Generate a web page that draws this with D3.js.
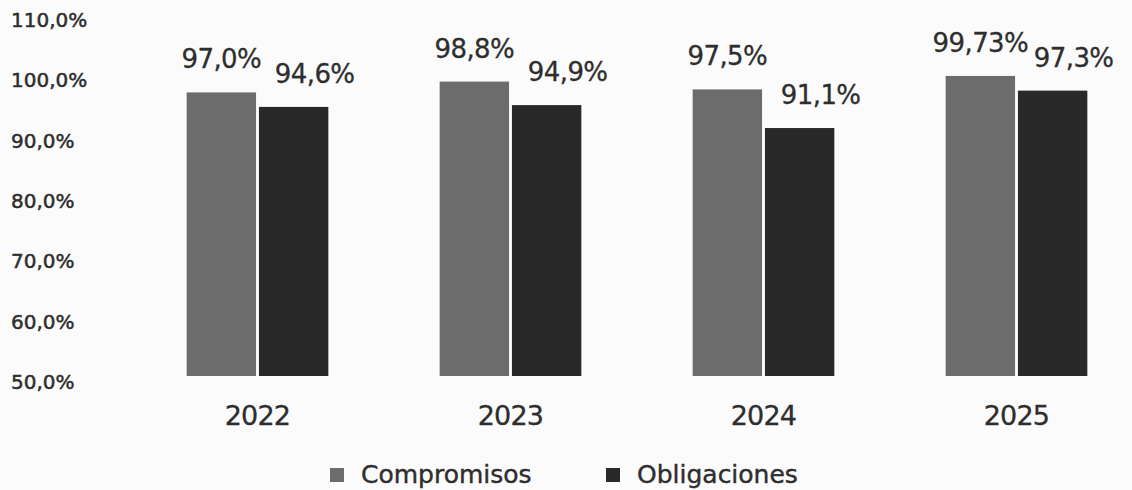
<!DOCTYPE html>
<html>
<head>
<meta charset="utf-8">
<script src="https://cdn.jsdelivr.net/npm/d3@7"></script>
<style>
  body { margin: 0; background: #fbfbfb; }
  svg { display: block; font-family: "DejaVu Sans", Verdana, sans-serif; }
</style>
</head>
<body>
<div id="chart"></div>
<script>
// data
var years = ['2022', '2023', '2024', '2025'];
var seriesNames = ['Compromisos', 'Obligaciones'];
var compromisos = [97.0, 98.8, 97.5, 99.73];
var obligaciones = [94.6, 94.9, 91.1, 97.3];
var compLabels = ['97,0%', '98,8%', '97,5%', '99,73%'];
var oblLabels = ['94,6%', '94,9%', '91,1%', '97,3%'];
var yTicks = [50, 60, 70, 80, 90, 100, 110];

var width = 1132, height = 490;
var colors = { Compromisos: '#6c6c6c', Obligaciones: '#292929' };
var textColor = '#2e2e2e';

var svg = d3.select('#chart').append('svg')
    .attr('width', width)
    .attr('height', height);

var y = d3.scaleLinear().domain([50, 110]).range([376, 14]);

var x = d3.scaleBand().domain(years).range([131, 1143]).paddingInner(0.44).paddingOuter(0.22);
var xs = d3.scaleBand().domain(seriesNames).range([0, x.bandwidth()]).paddingInner(0.04);

// y tick labels (left aligned, no axis line)
svg.append('g').selectAll('text')
    .data(yTicks)
    .enter().append('text')
    .attr('x', 11)
    .attr('y', function (d) { return y(d) + 13; })
    .attr('fill', textColor)
    .attr('stroke', textColor)
    .attr('stroke-width', 0.5)
    .style('font-size', '20px')
    .text(function (d) { return d3.format('.1f')(d).replace('.', ',') + '%'; });

var rows = years.map(function (yr, i) {
  return { year: yr, values: [
    { key: 'Compromisos', v: compromisos[i], label: compLabels[i], dx: 0 },
    { key: 'Obligaciones', v: obligaciones[i], label: oblLabels[i], dx: 21 }
  ]};
});

var groups = svg.selectAll('g.year')
    .data(rows)
    .enter().append('g')
    .attr('class', 'year')
    .attr('transform', function (d) { return 'translate(' + x(d.year) + ',0)'; });

groups.selectAll('rect')
    .data(function (d) { return d.values; })
    .enter().append('rect')
    .attr('x', function (d) { return xs(d.key); })
    .attr('width', xs.bandwidth())
    .attr('y', function (d) { return y(d.v); })
    .attr('height', function (d) { return y(50) - y(d.v); })
    .attr('fill', function (d) { return colors[d.key]; });

groups.selectAll('text.val')
    .data(function (d) { return d.values; })
    .enter().append('text')
    .attr('class', 'val')
    .attr('text-anchor', 'middle')
    .attr('x', function (d) { return xs(d.key) + xs.bandwidth() / 2 + d.dx; })
    .attr('y', function (d) { return y(d.v) - 24; })
    .attr('fill', textColor)
    .attr('stroke', textColor)
    .attr('stroke-width', 0.3)
    .style('font-size', '26px')
    .style('letter-spacing', '-0.6px')
    .text(function (d) { return d.label; });

// year labels
svg.append('g').selectAll('text')
    .data(years)
    .enter().append('text')
    .attr('text-anchor', 'middle')
    .attr('x', function (d) { return x(d) + x.bandwidth() / 2; })
    .attr('y', 425)
    .attr('fill', textColor)
    .attr('stroke', textColor)
    .attr('stroke-width', 0.3)
    .style('font-size', '27px')
    .style('letter-spacing', '-0.8px')
    .text(function (d) { return d; });

// legend
var legendX = [330, 606];
var legend = svg.append('g').selectAll('g')
    .data(seriesNames)
    .enter().append('g')
    .attr('transform', function (d, i) { return 'translate(' + legendX[i] + ',0)'; });

legend.append('rect')
    .attr('y', 468)
    .attr('width', 14)
    .attr('height', 14)
    .attr('fill', function (d) { return colors[d]; });

legend.append('text')
    .attr('x', 31)
    .attr('y', 483)
    .attr('fill', textColor)
    .attr('stroke', textColor)
    .attr('stroke-width', 0.4)
    .style('font-size', '25px')
    .text(function (d) { return d; });
</script>
</body>
</html>
